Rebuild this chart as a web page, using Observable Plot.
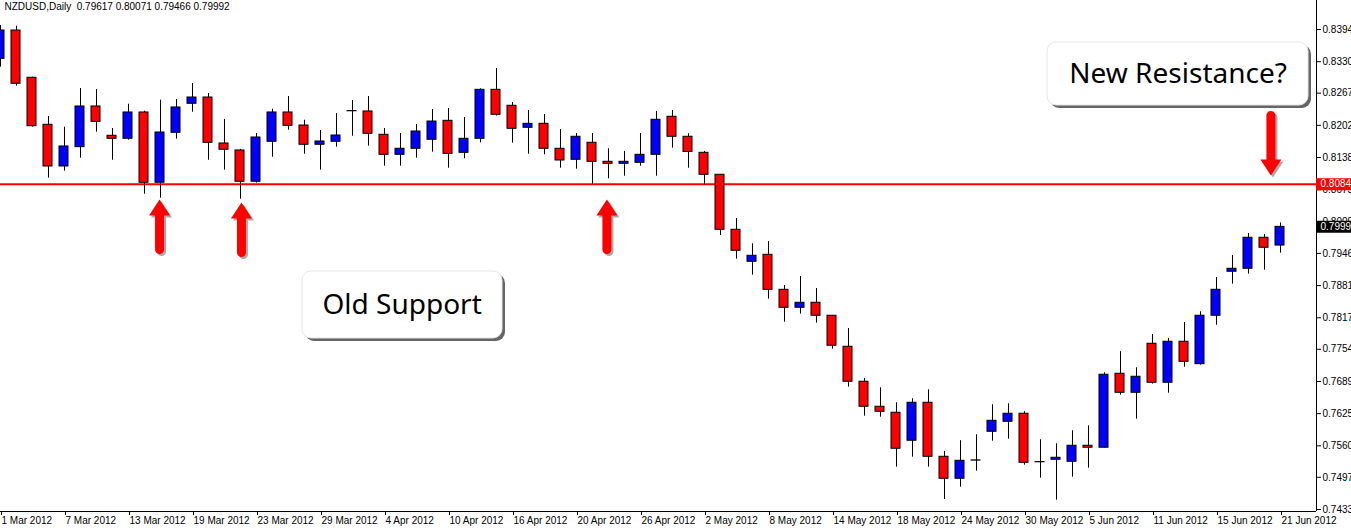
<!DOCTYPE html>
<html>
<head>
<meta charset="utf-8">
<script src="https://cdn.jsdelivr.net/npm/d3@7"></script>
<script src="https://cdn.jsdelivr.net/npm/@observablehq/plot@0.6"></script>
<style>
  html, body { margin: 0; padding: 0; background: #ffffff; }
  #chart svg { display: block; }
</style>
</head>
<body>
<div id="chart"></div>
<script>
// ---- Data (NZDUSD daily, bar index 0 = 1 Mar 2012 ... 80 = 21 Jun 2012) ----
const opens = [
  0.83358, 0.83925, 0.82978, 0.82036, 0.81201, 0.81588, 0.82403, 0.81816, 0.81756, 0.82283,
  0.80875, 0.81876, 0.82457, 0.82583, 0.81662, 0.81522, 0.80895, 0.81696, 0.82283, 0.82022,
  0.81636, 0.81696, 0.82311, 0.82303, 0.81836, 0.81435, 0.81556, 0.81736, 0.82116, 0.81475,
  0.81756, 0.82737, 0.82417, 0.81976, 0.82056, 0.81556, 0.81335, 0.81676, 0.81295, 0.81255,
  0.81275, 0.81435, 0.82197, 0.81796, 0.81475, 0.81035, 0.79933, 0.79292, 0.79432, 0.78731,
  0.78371, 0.78471, 0.78211, 0.77590, 0.76889, 0.76388, 0.76268, 0.75707, 0.76468, 0.75386,
  0.74946, 0.75314, 0.75887, 0.76087, 0.76248, 0.75280, 0.75326, 0.75286, 0.75607, 0.75567,
  0.77049, 0.76668, 0.77650, 0.76869, 0.77690, 0.77241, 0.78211, 0.79092, 0.79152, 0.79773,
  0.79617
];
const highs = [
  0.84025, 0.84011, 0.82990, 0.82203, 0.81988, 0.82763, 0.82743, 0.81962, 0.82449, 0.82309,
  0.82529, 0.82543, 0.82864, 0.82663, 0.82142, 0.81542, 0.81862, 0.82349, 0.82603, 0.82128,
  0.81922, 0.82263, 0.82523, 0.82603, 0.81962, 0.81862, 0.82042, 0.82343, 0.82363, 0.82183,
  0.82757, 0.83164, 0.82483, 0.82323, 0.82243, 0.81942, 0.81862, 0.81862, 0.81556, 0.81502,
  0.81862, 0.82303, 0.82323, 0.81856, 0.81502, 0.81041, 0.80160, 0.79653, 0.79699, 0.78817,
  0.78998, 0.78757, 0.78217, 0.77956, 0.76955, 0.76768, 0.76468, 0.76548, 0.76728, 0.75492,
  0.75707, 0.75827, 0.76428, 0.76448, 0.76288, 0.75727, 0.75647, 0.75907, 0.76007, 0.77069,
  0.77492, 0.77169, 0.77836, 0.77756, 0.78076, 0.78291, 0.78978, 0.79418, 0.79859, 0.79839,
  0.80071
];
const lows = [
  0.83190, 0.82809, 0.81988, 0.80967, 0.81107, 0.81367, 0.81888, 0.81327, 0.81728, 0.80646,
  0.80566, 0.81748, 0.82289, 0.81327, 0.81127, 0.80546, 0.80867, 0.81387, 0.81928, 0.81447,
  0.81127, 0.81588, 0.81808, 0.81608, 0.81207, 0.81207, 0.81367, 0.81488, 0.81167, 0.81355,
  0.81676, 0.82209, 0.81668, 0.81447, 0.81435, 0.81167, 0.81147, 0.80841, 0.80955, 0.81007,
  0.81207, 0.81007, 0.81568, 0.81167, 0.80831, 0.79819, 0.79344, 0.79024, 0.78543, 0.78082,
  0.78243, 0.78062, 0.77542, 0.76780, 0.76200, 0.76180, 0.75178, 0.75378, 0.75178, 0.74531,
  0.74777, 0.75098, 0.75699, 0.75739, 0.75218, 0.74958, 0.74517, 0.74978, 0.75158, 0.75562,
  0.76620, 0.76139, 0.76841, 0.76660, 0.77181, 0.77221, 0.78022, 0.78844, 0.79044, 0.79124,
  0.79466
];
const closes = [
  0.83925, 0.82858, 0.82008, 0.81201, 0.81602, 0.82403, 0.82096, 0.81756, 0.82283, 0.80875,
  0.81882, 0.82383, 0.82583, 0.81676, 0.81536, 0.80895, 0.81782, 0.82283, 0.82016, 0.81636,
  0.81702, 0.81822, 0.82307, 0.81856, 0.81435, 0.81556, 0.81902, 0.82102, 0.81455, 0.81756,
  0.82737, 0.82237, 0.81956, 0.82056, 0.81556, 0.81321, 0.81796, 0.81295, 0.81255, 0.81295,
  0.81435, 0.82136, 0.81796, 0.81492, 0.81035, 0.79933, 0.79513, 0.79412, 0.78731, 0.78371,
  0.78471, 0.78211, 0.77610, 0.76889, 0.76388, 0.76288, 0.75547, 0.76468, 0.75386, 0.74946,
  0.75306, 0.75310, 0.76107, 0.76248, 0.75266, 0.75276, 0.75366, 0.75607, 0.75567, 0.77029,
  0.76668, 0.76989, 0.76869, 0.77690, 0.77289, 0.78211, 0.78731, 0.79152, 0.79773, 0.79573,
  0.79992
];
const dateTickIndex = [0, 4, 8, 12, 16, 20, 24, 28, 32, 36, 40, 44, 48, 52, 56, 60, 64, 68, 72, 76, 80];
const dateLabels = [
  "1 Mar 2012", "7 Mar 2012", "13 Mar 2012", "19 Mar 2012", "23 Mar 2012", "29 Mar 2012",
  "4 Apr 2012", "10 Apr 2012", "16 Apr 2012", "20 Apr 2012", "26 Apr 2012", "2 May 2012",
  "8 May 2012", "14 May 2012", "18 May 2012", "24 May 2012", "30 May 2012", "5 Jun 2012",
  "11 Jun 2012", "15 Jun 2012", "21 Jun 2012"
];
const priceTicks = [0.83945, 0.83300, 0.82670, 0.82025, 0.81380, 0.80735, 0.80090, 0.79460,
  0.78815, 0.78170, 0.77540, 0.76895, 0.76250, 0.75605, 0.74975, 0.74330];
const supportLevel = 0.80847;
const headerText = "NZDUSD,Daily  0.79617 0.80071 0.79466 0.79992";

// annotations (bar index / price)
const callouts = [
  {label: "Old Support", x1: 18.875, x2: 31.375, y1: 0.79098, y2: 0.77756, tx: 25.1, ty: 0.78417},
  {label: "New Resistance?", x1: 65.44, x2: 81.75, y1: 0.83685, y2: 0.82423, tx: 73.6, ty: 0.83044}
];
const upArrows = [
  {i: 9.94, p: 0.79539},
  {i: 15.06, p: 0.79479},
  {i: 37.9, p: 0.79539}
];
const downArrows = [
  {i: 79.4, p: 0.82223}
];

// ---- Build table ----
const candles = opens.map((o, i) => ({i, open: o, high: highs[i], low: lows[i], close: closes[i]}));
const lastClose = closes[closes.length - 1];

const xMax = 82.25;
const yMin = 0.74290, yMax = 0.84526;

const fatArrow = {
  draw(context, l) {
    const sw = 4.5, hw = 10.5, hl = 16;
    context.moveTo(sw, 0);
    context.lineTo(sw, -l + hl);
    context.lineTo(hw, -l + hl);
    context.lineTo(0, -l);
    context.lineTo(-hw, -l + hl);
    context.lineTo(-sw, -l + hl);
    context.lineTo(-sw, 0);
    context.arc(0, 0, sw, Math.PI, 0, true);
    context.closePath();
  }
};

const candleColor = d => Math.abs(d.close - d.open) < 0.00006 ? "black" : (d.close > d.open ? "#0000ff" : "#ff0000");
const fmt = d3.format(".5f");

const chart = Plot.plot({
  width: 1351,
  height: 531,
  marginLeft: 0,
  marginRight: 35,
  marginTop: 0,
  marginBottom: 20,
  x: {domain: [0, xMax], axis: null},
  y: {domain: [yMin, yMax], axis: null},
  style: {fontFamily: "'Liberation Sans', Arial, sans-serif", fontSize: "10px", background: "#ffffff", color: "black"},
  marks: [
    // support / resistance line
    Plot.ruleY([supportLevel], {stroke: "#ff0000", strokeWidth: 2}),
    // wicks
    Plot.ruleX(candles, {x: "i", y1: "low", y2: "high", stroke: "black", strokeWidth: 1}),
    // bodies
    Plot.rect(candles, {
      x1: d => d.i - 0.5, x2: d => d.i + 0.5, insetLeft: 3, insetRight: 4,
      y1: "open", y2: "close", fill: candleColor, stroke: "black", strokeWidth: 1
    }),
    // axes lines
    Plot.ruleX([xMax], {stroke: "black"}),
    Plot.ruleY([yMin], {stroke: "black"}),
    Plot.axisY(priceTicks, {anchor: "right", tickSize: 4, tickPadding: 2, tickFormat: fmt, fontSize: 10}),
    Plot.axisX(dateTickIndex, {anchor: "bottom", tickSize: 4, tickPadding: 1, tickFormat: (d, k) => dateLabels[k], textAnchor: "start", dx: 1, fontSize: 10}),
    // price labels on axis
    Plot.ruleY([supportLevel], {x1: xMax, x2: xMax + 3, stroke: "#ff0000", strokeWidth: 12}),
    Plot.text([supportLevel], {x: xMax, y: d => d, text: d => fmt(d), fill: "white", textAnchor: "start", dx: 4, fontSize: 10}),
    Plot.ruleY([lastClose], {x1: xMax, x2: xMax + 3, stroke: "black", strokeWidth: 12}),
    Plot.text([lastClose], {x: xMax, y: d => d, text: d => fmt(d), fill: "white", textAnchor: "start", dx: 4, fontSize: 10}),
    // header
    Plot.text([headerText], {frameAnchor: "top-left", text: d => d, dx: 4, dy: 2, lineAnchor: "top", textAnchor: "start", fontSize: 10, fill: "black"}),
    // callout boxes
    Plot.rect(callouts, {x1: "x1", x2: "x2", y1: "y1", y2: "y2", rx: 9, fill: "#333333", fillOpacity: 0.75, dx: 3, dy: 3}),
    Plot.rect(callouts, {x1: "x1", x2: "x2", y1: "y1", y2: "y2", rx: 9, fill: "white", stroke: "#e6e6e6"}),
    Plot.text(callouts, {x: "tx", y: "ty", text: "label", fontSize: 28, fontFamily: "'Noto Sans', sans-serif", fill: "black"}),
    // arrows (shadow then arrow)
    Plot.vector(upArrows, {x: "i", y: "p", length: 50, rotate: 0, anchor: "start", shape: fatArrow, fill: "#555", fillOpacity: 0.5, stroke: "none", dx: 2, dy: 2}),
    Plot.vector(upArrows, {x: "i", y: "p", length: 50, rotate: 0, anchor: "start", shape: fatArrow, fill: "#ff0000", stroke: "none"}),
    Plot.vector(downArrows, {x: "i", y: "p", length: 60, rotate: 180, anchor: "start", shape: fatArrow, fill: "#555", fillOpacity: 0.5, stroke: "none", dx: 2, dy: 2}),
    Plot.vector(downArrows, {x: "i", y: "p", length: 60, rotate: 180, anchor: "start", shape: fatArrow, fill: "#ff0000", stroke: "none"})
  ]
});
document.getElementById("chart").appendChild(chart);
</script>
</body>
</html>
